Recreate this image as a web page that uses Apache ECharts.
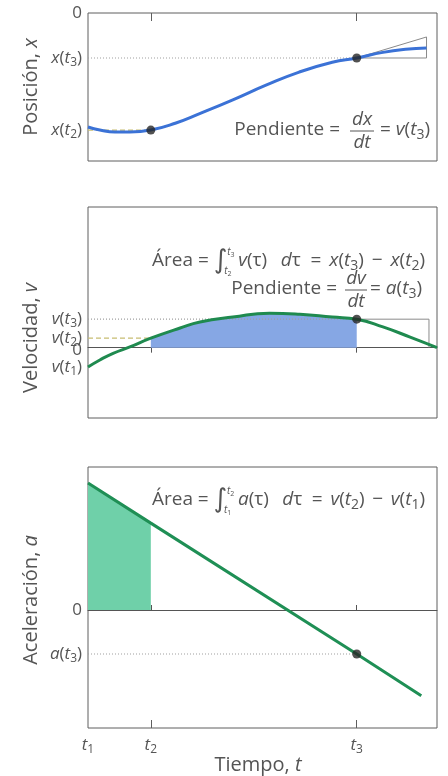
<!DOCTYPE html>
<html>
<head>
<meta charset="utf-8">
<script src="https://cdn.jsdelivr.net/npm/echarts@6/dist/echarts.min.js"></script>
<style>
  html, body { margin: 0; padding: 0; background: #ffffff; }
  #chart { width: 448px; height: 776px; }
</style>
</head>
<body>
<div id="chart"></div>
<script>
// Instants marked on the time axis
const T1 = 0, T2 = 1.8, T3 = 7.7;
const timeTicks = [T1, T2, T3];
const timeTickNames = ['1', '2', '3'];

// Position x(t)
const posTime  = [0, 0.34, 0.77, 1.2, 1.8, 2.5, 3.2, 4.15, 5.1, 6.05, 7.0, 7.7, 8.45, 9.1, 9.7];
const posValue = [-7.7, -7.9, -8.04, -8.04, -7.91, -7.45, -6.8, -5.87, -4.88, -3.99, -3.33, -3.04, -2.66, -2.45, -2.36];
const X_T2 = -7.91, X_T3 = -3.04;
const posTangentEnd = [9.7, -1.62];

// Velocity v(t)
const velTime  = [0, 0.34, 0.72, 1.2, 1.8, 2.64, 3.21, 4.15, 5.2, 6.07, 7.0, 7.7, 8.45, 9.23, 10];
const velValue = [-0.55, -0.35, -0.16, 0.02, 0.27, 0.56, 0.73, 0.87, 0.98, 0.95, 0.87, 0.81, 0.59, 0.30, 0.0];
const V_T1 = -0.55, V_T2 = 0.27, V_T3 = 0.81;
const velTriangleEnd = 9.77;

// Acceleration a(t)
const accTime  = [0, 1.8, 7.7, 9.55];
const accValue = [3.55, 2.43, -1.23, -2.40];
const A_T3 = -1.23;

const FONT = '"Open Sans", "DejaVu Sans", sans-serif';
const INT_FONT = '"DejaVu Sans", sans-serif';
const TXT = '#555555';
const FRAME = '#5e5e5e';

// Rich styles for axis labels
const axisRich = {
  n: { fontFamily: FONT, fontSize: 17, color: TXT },
  i: { fontFamily: FONT, fontSize: 17, color: TXT, fontStyle: 'italic' },
  s: { fontFamily: FONT, fontSize: 12, color: TXT, padding: [9, 0, 0, 0] },
  z: { fontFamily: FONT, fontSize: 17, color: TXT, padding: [5, 0, 0, 0] }
};

function sym(letter, idx) {
  return '{i|' + letter + '}{n|(}{i|t}{s|' + idx + '}{n|)}';
}

const zip = (a, b) => a.map((v, k) => [v, b[k]]);
const posData = zip(posTime, posValue);
const velData = zip(velTime, velValue);
const accData = zip(accTime, accValue);
const velArea = velData.filter(p => p[0] >= T2 && p[0] <= T3);
const accArea = accData.filter(p => p[0] >= T1 && p[0] <= T2);

const yLabelMaps = [
  new Map([[0, '{n|0}'], [X_T3, sym('x', 3)], [X_T2, sym('x', 2)]]),
  new Map([[V_T3, sym('v', 3)], [V_T2, sym('v', 2)], [0, '{z|0}'], [V_T1, sym('v', 1)]]),
  new Map([[0, '{n|0}'], [A_T3, sym('a', 3)]])
];

function yAxis(idx, min, max) {
  const labels = yLabelMaps[idx];
  return {
    type: 'value', gridIndex: idx, min: min, max: max,
    splitLine: { show: false },
    axisLine: { show: false },
    axisTick: { show: false },
    axisLabel: {
      customValues: Array.from(labels.keys()),
      formatter: v => labels.get(v) || '',
      margin: 6,
      hideOverlap: false,
      rich: axisRich
    }
  };
}

const base = { type: 'value', min: 0, max: 10, splitLine: { show: false } };

const line = (xi, yi, data, color, width, type, extra) => Object.assign({
  type: 'line', xAxisIndex: xi, yAxisIndex: yi, data: data,
  symbol: 'none', silent: true,
  lineStyle: { color: color, width: width, type: type || 'solid' }
}, extra || {});

const dots = (xi, yi, data) => ({
  type: 'scatter', xAxisIndex: xi, yAxisIndex: yi, data: data,
  symbolSize: 9, silent: true,
  itemStyle: { color: '#262626' }, z: 10
});

// ---- formula text helpers ----
const measureCtx = document.createElement('canvas').getContext('2d');
function textWidth(str, size, italic, family) {
  measureCtx.font = (italic ? 'italic ' : '') + size + 'px ' + (family || FONT);
  return measureCtx.measureText(str).width;
}

const F_SIZE = 19;
const SUB_SIZE = 14;
const INT_SIZE = 26;

function formulaRich() {
  return {
    n: { fontFamily: FONT, fontSize: F_SIZE, fill: TXT },
    i: { fontFamily: FONT, fontSize: F_SIZE, fill: TXT, fontStyle: 'italic' },
    s: { fontFamily: FONT, fontSize: SUB_SIZE, fill: TXT, padding: [10, 0, 0, 0] },
    g: { fontFamily: INT_FONT, fontSize: INT_SIZE, fill: TXT }
  };
}

function tokenWidth(p) {
  if (p[0] === 's') return textWidth(p[1], SUB_SIZE, false);
  if (p[0] === 'g') return textWidth(p[1], INT_SIZE, false, INT_FONT);
  if (p[0] === 'i') return textWidth(p[1], F_SIZE, true);
  return textWidth(p[1], F_SIZE, false);
}

// "Área = ∫ f(τ) dτ = F(tb) − F(ta)" spread between left and right
function areaFormula(left, right, y, f, F, lo, hi) {
  const LIM = 'lim';
  const parts = [
    ['n', 'Área'], ['gap', 0.5], ['n', '='], ['gap', 0.5], ['g', '∫'], [LIM],
    ['i', f], ['n', '(τ)'], ['gap', 1.4], ['i', 'd'], ['n', 'τ'], ['gap', 1], ['n', '='], ['gap', 0.8],
    ['i', F], ['n', '('], ['i', 't'], ['s', String(hi)], ['n', ')'], ['gap', 0.8], ['n', '−'], ['gap', 0.8],
    ['i', F], ['n', '('], ['i', 't'], ['s', String(lo)], ['n', ')']
  ];
  const limWidth = 11;
  let natural = 0, weight = 0;
  parts.forEach(p => {
    if (p[0] === 'gap') weight += p[1];
    else if (p[0] === LIM) natural += limWidth;
    else natural += tokenWidth(p);
  });
  const unit = Math.max(3, (right - left - natural) / weight);
  const rich = formulaRich();
  rich.lim = { width: limWidth, fontSize: F_SIZE };
  let intX = left;
  let cursor = left;
  let gapCount = 0;
  const text = parts.map(p => {
    if (p[0] === 'gap') {
      const name = 'gap' + (gapCount++);
      rich[name] = { width: unit * p[1], fontSize: F_SIZE };
      cursor += unit * p[1];
      return '{' + name + '| }';
    }
    if (p[0] === LIM) { intX = cursor; cursor += limWidth; return '{lim| }'; }
    cursor += tokenWidth(p);
    return '{' + p[0] + '|' + p[1] + '}';
  }).join('');
  const limRich = {
    i: { fontFamily: FONT, fontSize: 10, fill: TXT, fontStyle: 'italic' },
    s: { fontFamily: FONT, fontSize: 7, fill: TXT, padding: [5, 0, 0, 0] }
  };
  return [
    { type: 'text', x: left, y: y, style: { text: text, rich: rich, align: 'left', verticalAlign: 'middle' } },
    { type: 'text', x: intX, y: y - 9, style: { text: '{i|t}{s|' + hi + '}', rich: limRich, align: 'left', verticalAlign: 'middle' } },
    { type: 'text', x: intX - 3, y: y + 10, style: { text: '{i|t}{s|' + lo + '}', rich: limRich, align: 'left', verticalAlign: 'middle' } }
  ];
}

// "Pendiente = dA/dt = B(t3)"
function slopeFormula(rightOfLabel, fracX, fracHalf, afterX, y, num, rhsLetter) {
  return [
    { type: 'text', x: rightOfLabel, y: y, style: { text: 'Pendiente =', font: F_SIZE + 'px ' + FONT, fill: TXT, align: 'right', verticalAlign: 'middle' } },
    { type: 'text', x: fracX, y: y - 10, style: { text: num, font: 'italic ' + F_SIZE + 'px ' + FONT, fill: TXT, align: 'center', verticalAlign: 'middle' } },
    { type: 'line', shape: { x1: fracX - fracHalf, y1: y + 1, x2: fracX + fracHalf, y2: y + 1 }, style: { stroke: TXT, lineWidth: 1 } },
    { type: 'text', x: fracX, y: y + 13, style: { text: 'dt', font: 'italic ' + F_SIZE + 'px ' + FONT, fill: TXT, align: 'center', verticalAlign: 'middle' } },
    { type: 'text', x: afterX, y: y, style: { text: '{n|= }' + '{i|' + rhsLetter + '}{n|(}{i|t}{s|3}{n|)}', rich: formulaRich(), align: 'left', verticalAlign: 'middle' } }
  ];
}

function axisTitle(x, y, word, letter, rotate) {
  return {
    type: 'text', x: x, y: y, rotation: rotate ? Math.PI / 2 : 0,
    style: {
      text: '{t|' + word + ' }{ti|' + letter + '}', align: 'center', verticalAlign: 'middle',
      rich: { t: { fontFamily: FONT, fontSize: 20, fill: TXT }, ti: { fontFamily: FONT, fontSize: 20, fontStyle: 'italic', fill: TXT } }
    }
  };
}

const option = {
  animation: false,
  backgroundColor: '#ffffff',
  grid: [
    { left: 88, top: 13, width: 349, height: 148, show: true, borderColor: FRAME, borderWidth: 1 },
    { left: 88, top: 207, width: 349, height: 211, show: true, borderColor: FRAME, borderWidth: 1 },
    { left: 88, top: 467, width: 349, height: 261, show: true, borderColor: FRAME, borderWidth: 1 }
  ],
  xAxis: [
    Object.assign({}, base, {
      gridIndex: 0, position: 'top',
      axisLine: { show: false, onZero: false },
      axisTick: { show: true, inside: true, length: 8, customValues: [T2, T3], lineStyle: { color: FRAME } },
      axisLabel: { show: false }
    }),
    Object.assign({}, base, {
      gridIndex: 1, position: 'bottom',
      axisLine: { show: true, onZero: true, lineStyle: { color: '#555', width: 1 } },
      axisTick: { show: true, length: 5, customValues: [T2, T3], lineStyle: { color: '#555' } },
      axisLabel: { show: false }
    }),
    Object.assign({}, base, {
      gridIndex: 2, position: 'bottom',
      axisLine: { show: false, onZero: false },
      axisTick: { show: true, inside: true, length: 8, customValues: [T2, T3], lineStyle: { color: FRAME } },
      axisLabel: {
        customValues: timeTicks,
        formatter: v => '{i|t}{s|' + timeTickNames[timeTicks.indexOf(v)] + '}',
        margin: 7,
        hideOverlap: false,
        rich: axisRich
      }
    }),
    Object.assign({}, base, {
      gridIndex: 2, position: 'top',
      axisLine: { show: true, onZero: true, lineStyle: { color: '#555', width: 1 } },
      axisTick: { show: true, length: 5, customValues: [T2, T3], lineStyle: { color: '#555' } },
      axisLabel: { show: false }
    })
  ],
  yAxis: [
    yAxis(0, -10, 0),
    yAxis(1, -2, 4),
    yAxis(2, -3.3, 4)
  ],
  series: [
    // Position panel
    line(0, 0, [[T1, X_T2], [T2, X_T2]], '#c8bd72', 1.2, [5, 3]),
    line(0, 0, [[T1, X_T3], [T3, X_T3]], '#a0a0a0', 1.2, [1, 2]),
    line(0, 0, [[T3, X_T3], posTangentEnd, [posTangentEnd[0], X_T3], [T3, X_T3]], '#8a8a8a', 1),
    line(0, 0, posData, '#3b72d6', 3, 'solid', { smooth: true, z: 5 }),
    dots(0, 0, [[T2, X_T2], [T3, X_T3]]),

    // Velocity panel
    line(1, 1, velArea, '#86a7e4', 0, 'solid', { smooth: true, areaStyle: { color: '#86a7e4', opacity: 1 }, z: 1 }),
    line(1, 1, [[T1, V_T2], [T2, V_T2]], '#c8bd72', 1.2, [5, 3]),
    line(1, 1, [[T1, V_T3], [T3, V_T3]], '#a0a0a0', 1.2, [1, 2]),
    line(1, 1, [[T3, V_T3], [velTriangleEnd, V_T3], [velTriangleEnd, 0]], '#8a8a8a', 1),
    line(1, 1, velData, '#1f8a4f', 3, 'solid', { smooth: true, z: 5 }),
    dots(1, 1, [[T3, V_T3]]),

    // Acceleration panel
    line(2, 2, accArea, '#6fd0a9', 0, 'solid', { areaStyle: { color: '#6fd0a9', opacity: 1 }, z: 1 }),
    line(2, 2, [[T1, A_T3], [T3, A_T3]], '#a0a0a0', 1.2, [1, 2]),
    line(2, 2, accData, '#1f8f55', 3, 'solid', { z: 5 }),
    dots(2, 2, [[T3, A_T3]])
  ],
  graphic: [].concat(
    axisTitle(31, 87, 'Posición,', 'x', true),
    axisTitle(31, 338, 'Velocidad,', 'v', true),
    axisTitle(31, 600, 'Aceleración,', 'a', true),
    axisTitle(258, 765, 'Tiempo,', 't', false),
    slopeFormula(340, 362, 12, 380, 130, 'dx', 'v'),
    areaFormula(152, 425, 261, 'v', 'x', 2, 3),
    slopeFormula(337, 356, 11, 370, 289, 'dv', 'a'),
    areaFormula(152, 425, 500, 'a', 'v', 1, 2)
  )
};

const chart = echarts.init(document.getElementById('chart'), null, { renderer: 'canvas' });
chart.setOption(option);
</script>
</body>
</html>
